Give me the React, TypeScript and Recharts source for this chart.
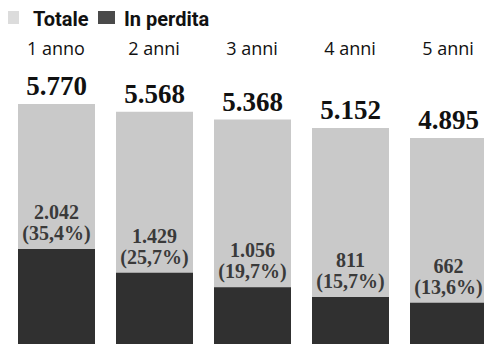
import React from "react";
import { BarChart, Bar, XAxis, YAxis, LabelList, Legend } from "recharts";

const years = ["1 anno", "2 anni", "3 anni", "4 anni", "5 anni"];
const totale = [5770, 5568, 5368, 5152, 4895];
const inPerdita = [2042, 1429, 1056, 811, 662];
const quotaPerdita = [35.4, 25.7, 19.7, 15.7, 13.6];

// the bars run past the bottom edge of the crop, so the axis starts below zero
const FLOOR = -400;
const LIGHT = "#c9c9c9";
const DARK = "#303030";

const fmtInt = (n: number) => String(n).replace(/\B(?=(\d{3})+(?!\d))/g, ".");
const fmtPct = (n: number) => `(${n.toFixed(1).replace(".", ",")}%)`;

const data = years.map((label, i) => ({
  label,
  tot: [FLOOR, totale[i]],
  loss: [FLOOR, inPerdita[i]],
}));

function TotalLabel(props: any) {
  const { x, y, width, index } = props;
  return (
    <text x={x + width / 2} y={y - 9} textAnchor="middle" fill="#111"
      fontFamily="Liberation Serif" fontWeight={700} fontSize={27}>
      {fmtInt(totale[index])}
    </text>
  );
}

function LossLabel(props: any) {
  const { x, y, width, index } = props;
  const cx = x + width / 2;
  return (
    <g fontFamily="Liberation Serif" fontWeight={700} fontSize={20} fill="#3a3a3a">
      <text x={cx} y={y - 30} textAnchor="middle">{fmtInt(inPerdita[index])}</text>
      <text x={cx} y={y - 9} textAnchor="middle">{fmtPct(quotaPerdita[index])}</text>
    </g>
  );
}

function LegendBox() {
  return (
    <svg width={230} height={32} style={{ display: "block" }}>
      <g fontFamily="Roboto" fontWeight={700} fontSize={20} fill="#111">
        <rect x={8} y={11} width={11} height={13} fill="#dcdcdc" />
        <text x={33} y={26}>Totale</text>
        <rect x={98} y={11} width={17} height={13} fill="#4a4a4a" />
        <text x={124} y={26}>In perdita</text>
      </g>
    </svg>
  );
}

export default function App() {
  return (
    <div style={{ position: "absolute", left: 0, top: 0, width: 484, height: 344, overflow: "hidden", background: "#fff" }}>
      <BarChart width={497} height={344} data={data} margin={{ top: 33, right: 0, bottom: 0, left: 7 }}>
        <Legend verticalAlign="top" align="left" content={() => <LegendBox />}
          wrapperStyle={{ top: 0, left: 0, height: 32 }} />
        <XAxis xAxisId="a" dataKey="label" orientation="top" axisLine={false} tickLine={false}
          tickSize={0} tickMargin={40} interval={0} height={30}
          tick={{ fill: "#111", fontSize: 18, fontFamily: "Open Sans" }} />
        <XAxis xAxisId="b" dataKey="label" hide />
        <YAxis domain={[FLOOR, 6000]} hide />
        <Bar xAxisId="a" dataKey="tot" fill={LIGHT} barSize={77} isAnimationActive={false}>
          <LabelList dataKey="tot" content={<TotalLabel />} />
        </Bar>
        <Bar xAxisId="b" dataKey="loss" fill={DARK} barSize={77} isAnimationActive={false}>
          <LabelList dataKey="loss" content={<LossLabel />} />
        </Bar>
      </BarChart>
    </div>
  );
}
